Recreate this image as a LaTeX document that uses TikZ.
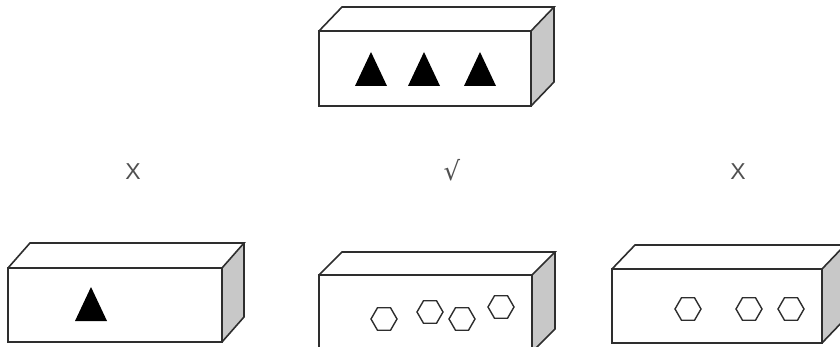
\documentclass[tikz,border=0pt]{standalone}
\usepackage{fontspec}
\setmainfont{Liberation Sans}
\newfontfamily\symfont{DejaVu Sans}
\definecolor{edge}{HTML}{2E2E2E}
\definecolor{side}{HTML}{C8C8C8}
\definecolor{mark}{HTML}{505050}
\newcommand\drawbrick[6]{% x1 y1 x2 y2 dx dy
  \fill[white] (#1,#2) rectangle (#3,#4);
  \fill[white] (#1,#2) -- (#1+#5,#2-#6) -- (#3+#5,#2-#6) -- (#3,#2) -- cycle;
  \fill[side] (#3,#2) -- (#3+#5,#2-#6) -- (#3+#5,#4-#6) -- (#3,#4) -- cycle;
  \draw[boxline] (#1,#2) rectangle (#3,#4);
  \draw[boxline] (#1,#2) -- (#1+#5,#2-#6) -- (#3+#5,#2-#6) -- (#3,#2);
  \draw[boxline] (#3+#5,#2-#6) -- (#3+#5,#4-#6) -- (#3,#4);
}
\newcommand\tri[4]{% xleft xright ybase yapex
  \fill[black] (#1,#3) -- ({(#1+#2)/2},#4) -- (#2,#3) -- cycle;
}
\newcommand\hexa[3]{% cx cy r
  \draw[hexline] (#1,#2) +(0:#3) -- +(60:#3) -- +(120:#3) -- +(180:#3) -- +(240:#3) -- +(300:#3) -- cycle;
}
\begin{document}
\begin{tikzpicture}[x=1pt,y=-1pt,
  boxline/.style={draw=edge,line width=1.6pt,line join=miter},
  hexline/.style={draw=edge,line width=1.4pt,line join=miter},
  lbl/.style={text=mark,font=\fontsize{23}{23}\selectfont,inner sep=0pt}]
\useasboundingbox (0,0) rectangle (840,347);
\clip (0,0) rectangle (840,347);
% top box
\drawbrick{319}{31}{531}{106}{23}{24}
\tri{355}{387}{86}{52}
\tri{408}{440}{86}{52}
\tri{464}{496}{86}{52}
% labels
\node[lbl] (l1) at (133,172) {X};
\node[lbl,font=\fontsize{26}{26}\selectfont] (l2) at (452,170) {\symfont√};
\node[lbl] (l3) at (738,172) {X};
% bottom left
\drawbrick{8}{268}{222}{342}{22}{25}
\tri{75}{107}{321}{287}
% bottom middle
\drawbrick{319}{275}{532}{352}{23}{23}
\hexa{384}{319}{13}
\hexa{430}{312}{13}
\hexa{462}{319}{13}
\hexa{501}{307}{13}
% bottom right
\drawbrick{612}{269}{822}{343}{23}{24}
\hexa{688}{309}{13}
\hexa{749}{309}{13}
\hexa{791}{309}{13}
\end{tikzpicture}
\end{document}
